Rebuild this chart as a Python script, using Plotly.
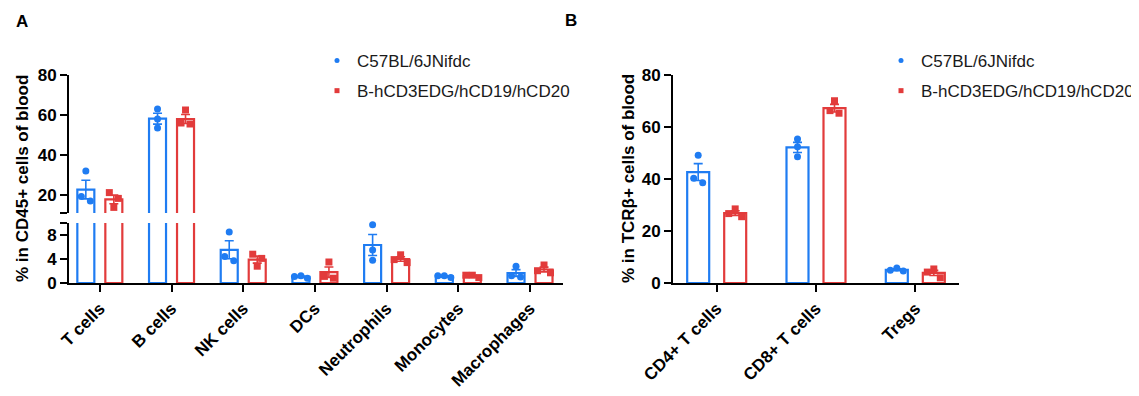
import numpy as np
import plotly.graph_objects as go

# ---------------- data ----------------
series = ["C57BL/6JNifdc", "B-hCD3EDG/hCD19/hCD20"]

cells_a = ["T cells", "B cells", "NK cells", "DCs", "Neutrophils", "Monocytes", "Macrophages"]
wt_a = [[19.2, 32.0, 17.0], [63.0, 58.0, 53.5], [8.5, 4.4, 3.7], [1.2, 1.1, 0.8],
        [9.7, 5.5, 3.8], [1.2, 1.2, 0.9], [2.8, 1.2, 1.0]]
hu_a = [[21.2, 13.8, 18.3], [62.5, 56.0, 55.5], [4.8, 4.1, 2.8], [3.5, 1.1, 0.8],
        [4.7, 3.9, 3.4], [1.3, 1.3, 0.9], [3.0, 2.05, 1.7]]

cells_b = ["CD4+ T cells", "CD8+ T cells", "Tregs"]
wt_b = [[49.1, 40.3, 38.6], [55.4, 52.4, 48.6], [5.8, 4.9, 4.6]]
hu_b = [[28.5, 26.7, 25.5], [70.1, 66.3, 65.3], [5.4, 4.2, 2.0]]

ticks_a_lower = [0, 4, 8]
ticks_a_upper = [20, 40, 60, 80]
ticks_b = [0, 20, 40, 60, 80]
ytitle_a = "% in CD45+ cells of blood"
ytitle_b = "% in TCRβ+ cells of blood"

# ---------------- style / layout ----------------
OFF = 8                      # page body margin in the browser
W, H = 1139 - OFF, 396 - OFF
BLUE = "#1f7cf2"
RED = "#e23b3b"
FONT = "Arial, Liberation Sans, sans-serif"

# target positions in screen pixels
A_X0, A_X1 = 69, 563
A_LO = (223, 283)      # pixel top, bottom of lower segment
A_UP = (75, 213)       # pixel top, bottom of upper segment
A_LO_RANGE = [0, 10]
A_UP_RANGE = [11, 80]
A_XRANGE = [-0.43, 6.46]
B_X0, B_X1 = 673, 959
B_Y = (75, 283)
B_RANGE = [0, 80]
B_XRANGE = [-0.44, 2.44]

def py(p):
    return 1 - (p - OFF) / H

def px(p):
    return (p - OFF) / W

a_ppx = (A_X1 - A_X0) / (A_XRANGE[1] - A_XRANGE[0])
b_ppx = (B_X1 - B_X0) / (B_XRANGE[1] - B_XRANGE[0])
lo_ppu = (A_LO[1] - A_LO[0]) / (A_LO_RANGE[1] - A_LO_RANGE[0])
up_ppu = (A_UP[1] - A_UP[0]) / (A_UP_RANGE[1] - A_UP_RANGE[0])
b_ppu = (B_Y[1] - B_Y[0]) / (B_RANGE[1] - B_RANGE[0])

def a_pix(v):
    if v <= A_LO_RANGE[1]:
        return v * lo_ppu
    return (A_LO[1] - A_LO[0]) + 10 + (v - A_UP_RANGE[0]) * up_ppu

def b_pix(v):
    return v * b_ppu

def swarm(vals, pixf, ppx, d=6.5):
    vals = np.asarray(vals, float)
    order = list(np.argsort(-vals, kind="stable"))
    clusters, cur = [], [order[0]]
    for i in order[1:]:
        if abs(pixf(vals[cur[-1]]) - pixf(vals[i])) < d:
            cur.append(i)
        else:
            clusters.append(cur)
            cur = [i]
    clusters.append(cur)
    off = np.zeros(len(vals))
    for c in clusters:
        if len(c) == 2:
            pos = [-4.5, 4.5]
        elif len(c) >= 3:
            pos = [0, -6.5, 6.5, -13, 13][:len(c)]
        else:
            pos = [0]
        for i, p in zip(c, pos):
            off[i] = p / ppx
    return off

fig = go.Figure()

def add_panel(cells, groups, xa, yas, ranges, pixf, ppx, shift, bw):
    for gi, (pts, col, sym) in enumerate(zip(groups, [BLUE, RED], ["circle", "square"])):
        arr = [np.asarray(p, float) for p in pts]
        means = [a.mean() for a in arr]
        sems = [a.std(ddof=1) / np.sqrt(len(a)) for a in arr]
        xc = np.arange(len(cells)) + (shift if gi else -shift)
        for ya in yas:
            fig.add_trace(go.Bar(
                x=xc, y=means, width=bw, xaxis=xa, yaxis=ya,
                marker=dict(color="white", line=dict(color=col, width=2.2)),
                error_y=dict(type="data", array=sems, color=col, thickness=1.6, width=4.5),
                showlegend=False, hoverinfo="skip"))
        xs, ys = [], []
        for k, a in enumerate(arr):
            off = swarm(a, pixf, ppx)
            xs += list(xc[k] + off)
            ys += list(a)
        for ya, rg in zip(yas, ranges):
            sel = [(x, y) for x, y in zip(xs, ys) if rg[0] <= y <= rg[1]]
            fig.add_trace(go.Scatter(
                x=[s[0] for s in sel], y=[s[1] for s in sel], xaxis=xa, yaxis=ya,
                mode="markers", cliponaxis=False,
                marker=dict(color=col, size=7, symbol=sym, line=dict(width=0)),
                showlegend=False, hoverinfo="skip"))

add_panel(cells_a, [wt_a, hu_a], "x", ["y", "y2"], [A_LO_RANGE, A_UP_RANGE],
          a_pix, a_ppx, 14 / a_ppx, 17 / a_ppx)
add_panel(cells_b, [wt_b, hu_b], "x2", ["y3"], [B_RANGE], b_pix, b_ppx, 18.5 / b_ppx, 22 / b_ppx)

# legend entries
for lg, xa, ya in [("legend", "x", "y"), ("legend2", "x2", "y3")]:
    for name, col, sym in zip(series, [BLUE, RED], ["circle", "square"]):
        fig.add_trace(go.Scatter(
            x=[None], y=[None], xaxis=xa, yaxis=ya, mode="markers", name=name,
            marker=dict(color=col, size=5, symbol=sym), legend=lg,
            legendgroup=lg + name, showlegend=True))

tickfont = dict(family=FONT, size=17, color="black", weight=700)
axis_common = dict(showline=True, linecolor="black", linewidth=2, ticks="outside",
                   ticklen=7, tickwidth=2, tickcolor="black", showgrid=False,
                   zeroline=False, tickfont=tickfont, fixedrange=True, automargin=False)

legfont = dict(family=FONT, size=17, color="#1a1a1a")
boldfont = dict(family=FONT, size=17, color="black", weight=700)

def ann(text, x, y, angle=0):
    return dict(text=text, x=px(x), y=py(y), xref="paper", yref="paper",
                showarrow=False, textangle=angle, xanchor="center", yanchor="middle",
                font=boldfont)

fig.update_layout(
    width=W, height=H, margin=dict(l=0, r=0, t=0, b=0, pad=0, autoexpand=False),
    paper_bgcolor="white", plot_bgcolor="white", barmode="overlay",
    xaxis=dict(domain=[px(A_X0), px(A_X1)], range=A_XRANGE, anchor="y",
               tickvals=list(range(len(cells_a))), ticktext=cells_a, tickangle=-45,
               **axis_common),
    yaxis=dict(domain=[py(A_LO[1]), py(A_LO[0])], range=A_LO_RANGE, anchor="x",
               tickvals=ticks_a_lower + [A_LO_RANGE[1]],
               ticktext=[str(t) for t in ticks_a_lower] + [""], **axis_common),
    yaxis2=dict(domain=[py(A_UP[1]), py(A_UP[0])], range=A_UP_RANGE, anchor="x",
                tickvals=[A_UP_RANGE[0]] + ticks_a_upper,
                ticktext=[""] + [str(t) for t in ticks_a_upper], **axis_common),
    xaxis2=dict(domain=[px(B_X0), px(B_X1)], range=B_XRANGE, anchor="y3",
                tickvals=list(range(len(cells_b))), ticktext=cells_b, tickangle=-45,
                **axis_common),
    yaxis3=dict(domain=[py(B_Y[1]), py(B_Y[0])], range=B_RANGE, anchor="x2",
                tickvals=ticks_b, ticktext=[str(t) for t in ticks_b], **axis_common),
    legend=dict(x=px(317), y=py(43), xanchor="left", yanchor="top", font=legfont,
                tracegroupgap=5, traceorder="grouped", bgcolor="rgba(0,0,0,0)"),
    legend2=dict(x=px(881), y=py(43), xanchor="left", yanchor="top", font=legfont,
                 tracegroupgap=5, traceorder="grouped", bgcolor="rgba(0,0,0,0)"),
    annotations=[
        ann("A", 22, 22),
        ann("B", 571, 20),
        ann(ytitle_a, 22, (A_UP[0] + A_LO[1]) / 2, -90),
        ann(ytitle_b, 628, (B_Y[0] + B_Y[1]) / 2, -90),
    ],
)

fig.write_html("out.html")
